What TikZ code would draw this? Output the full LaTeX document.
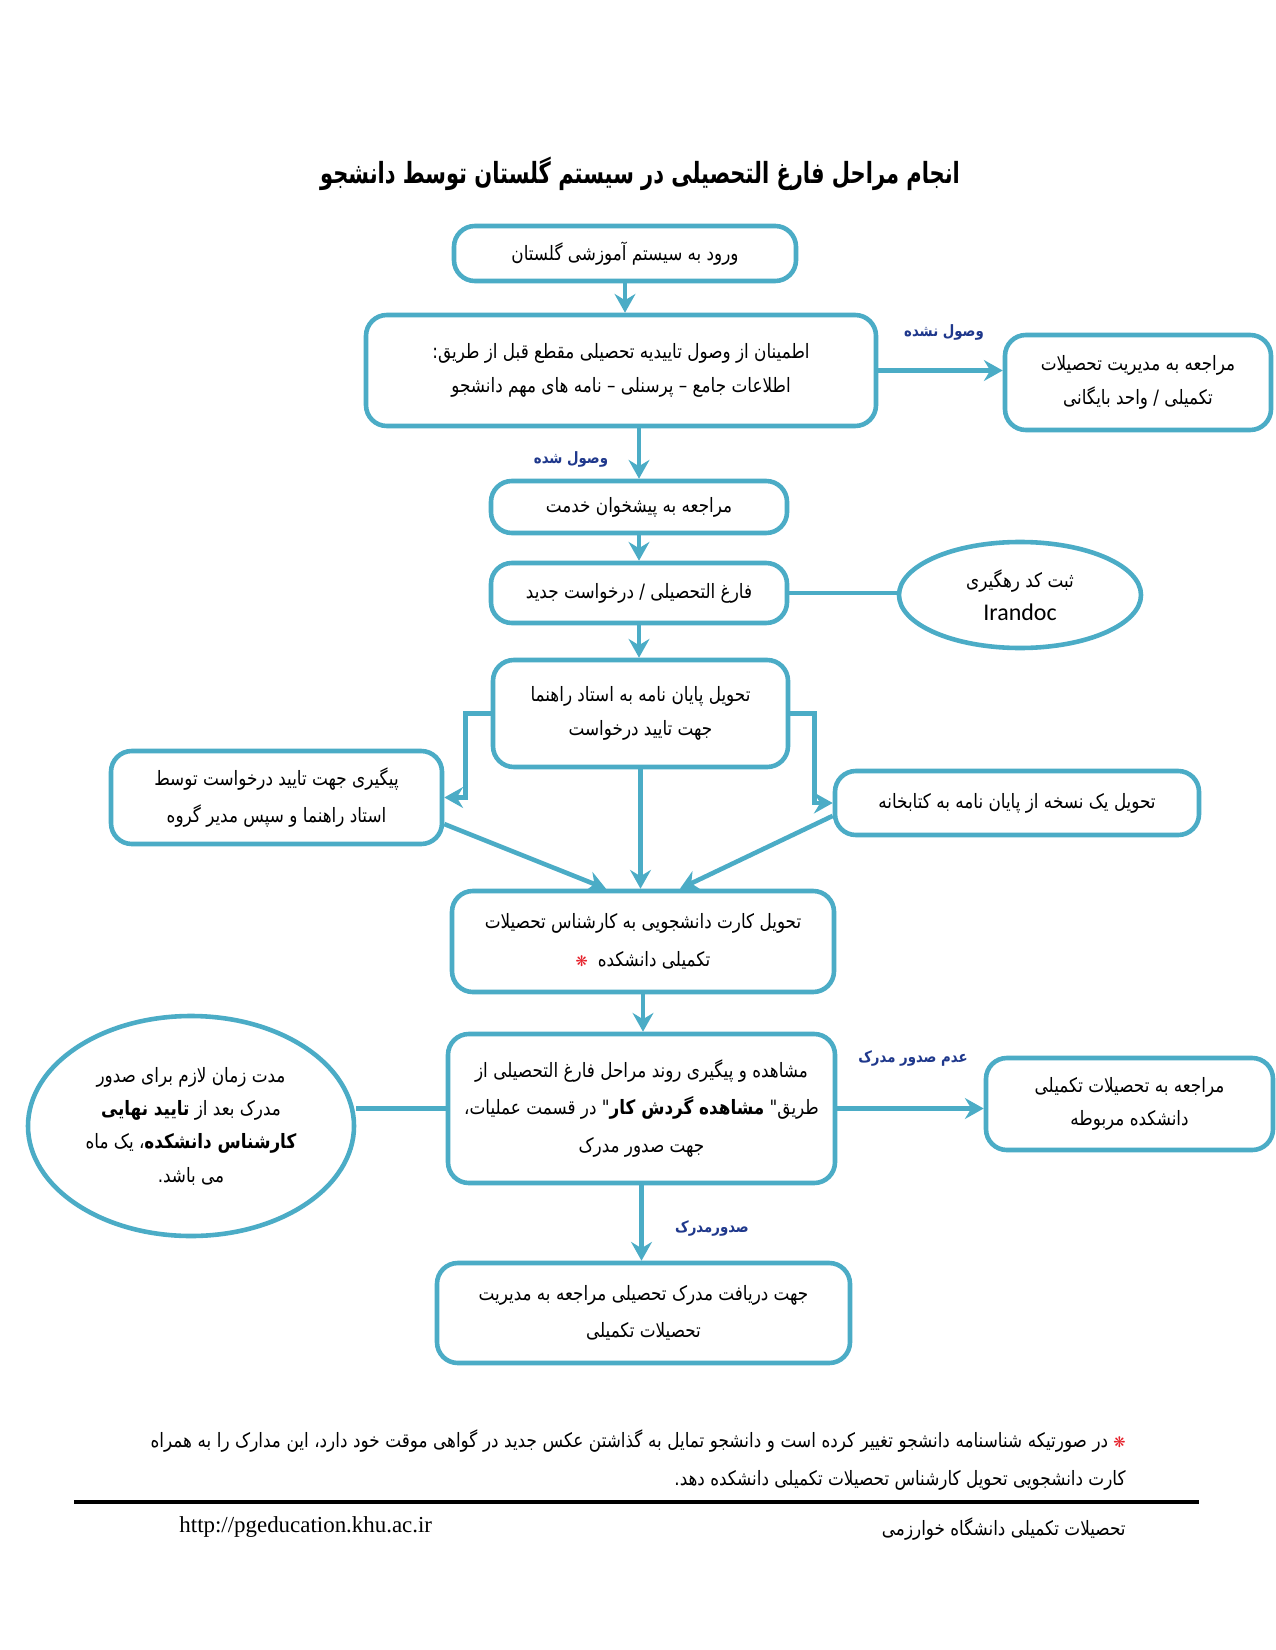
\documentclass[tikz,border=0pt]{standalone}
\usepackage{fontspec}
\setmainfont{Liberation Serif}
\newfontfamily\arabicfont[Script=Arabic,FakeStretch=0.85]{DejaVu Sans}
\newfontfamily\titlefont[Script=Arabic,FakeStretch=0.72]{DejaVu Sans}
\newfontfamily\symfont{DejaVu Sans}
\newfontfamily\latinsans{Carlito}
\TeXXeTstate=1
\usetikzlibrary{arrows.meta,shapes.geometric,calc}
\definecolor{bl}{RGB}{75,172,198}
\definecolor{labc}{RGB}{31,56,140}
\definecolor{starc}{RGB}{230,30,40}
\newcommand{\fa}[1]{{\arabicfont\beginR #1\endR}}
\newcommand{\starsym}{{\color{starc}\symfont\fontsize{7}{8}\selectfont ❋}}
\newcommand{\px}{0.48pt}
\tikzset{
  box/.style={draw=bl, line width=2.2pt, rounded corners=10pt, fill=white, align=center, inner sep=0pt, font=\fontsize{9.5}{16}\selectfont},
  wide/.style={font=\fontsize{9.5}{18}\selectfont},
  oval/.style={ellipse, draw=bl, line width=2.2pt, fill=white, align=center, inner sep=0pt, font=\fontsize{9.5}{16}\selectfont},
  arr/.style={draw=bl, line width=2.2pt, -{Stealth[length=9pt,width=10pt,inset=3pt]}},
  conn/.style={draw=bl, line width=2.2pt},
  lab/.style={text=labc, inner sep=0pt, font=\fontsize{7.5}{8}\selectfont\bfseries},
  plain/.style={inner sep=0pt, font=\fontsize{9.5}{12}\selectfont},
}
\begin{document}
\begin{tikzpicture}[x=0.48pt,y=-0.48pt]
\fill[white] (0,0) rectangle (1275,1650);
\path[use as bounding box] (0,0) rectangle (1275,1650);

\node[font=\fontsize{14}{18}\selectfont\bfseries] (title) at (640,174) {{\titlefont\beginR انجام مراحل فارغ التحصیلی در سیستم گلستان توسط دانشجو\endR}};

\node[box, minimum width=342*\px, minimum height=55*\px] (b1) at (625,253.5) {\fa{ورود به سیستم آموزشی گلستان}};
\node[box, minimum width=510*\px, minimum height=111*\px] (b2) at (621,370.5) {\fa{اطمینان از وصول تاییدیه تحصیلی مقطع قبل از طریق:}\\ \fa{اطلاعات جامع – پرسنلی – نامه های مهم دانشجو}};
\node[box, minimum width=266*\px, minimum height=95*\px] (r1) at (1138,382.5) {\fa{مراجعه به مدیریت تحصیلات}\\ \fa{تکمیلی / واحد بایگانی}};
\node[box, minimum width=296*\px, minimum height=52*\px] (b3) at (639,507) {\fa{مراجعه به پیشخوان خدمت}};
\node[box, minimum width=296*\px, minimum height=60*\px] (b4) at (639,593) {\fa{فارغ التحصیلی /  درخواست جدید}};
\node[oval, minimum width=242*\px, minimum height=106*\px] (e1) at (1020,595) {\fa{ثبت کد رهگیری}\\ {\latinsans\fontsize{11.5}{16}\selectfont Irandoc}};
\node[box, minimum width=295*\px, minimum height=107*\px] (b5) at (640.5,713.5) {\fa{تحویل پایان نامه به استاد راهنما}\\ \fa{جهت تایید درخواست}};
\node[box, wide, minimum width=331*\px, minimum height=93*\px] (lb) at (276.5,797.5) {\fa{پیگیری جهت تایید درخواست توسط}\\ \fa{استاد راهنما و سپس مدیر گروه}};
\node[box, minimum width=364*\px, minimum height=64*\px] (rb) at (1017,803) {\fa{تحویل یک نسخه از پایان نامه به کتابخانه}};
\node[box, wide, minimum width=382*\px, minimum height=101*\px] (b6) at (643,941.5) {\fa{تحویل کارت دانشجویی به کارشناس تحصیلات}\\ \starsym\ \ \fa{تکمیلی دانشکده}};
\node[box, wide, minimum width=387*\px, minimum height=149*\px] (b7) at (641.5,1108.5) {\fa{مشاهده و پیگیری روند مراحل فارغ التحصیلی از}\\ \fa{طریق" {\bfseries مشاهده گردش کار}" در قسمت عملیات،}\\ \fa{جهت صدور مدرک}};
\node[oval, minimum width=326*\px, minimum height=220*\px] (e2) at (191,1126) {\fa{مدت زمان لازم برای صدور}\\ \fa{مدرک بعد از {\bfseries تایید نهایی}}\\ \fa{{\bfseries کارشناس دانشکده}، یک ماه}\\ \fa{می باشد.}};
\node[box, minimum width=287*\px, minimum height=92*\px] (r2) at (1129.5,1104) {\fa{مراجعه به تحصیلات تکمیلی}\\ \fa{دانشکده مربوطه}};
\node[box, wide, minimum width=413*\px, minimum height=100*\px] (b8) at (643.5,1313) {\fa{جهت دریافت مدرک تحصیلی مراجعه به مدیریت}\\ \fa{تحصیلات تکمیلی}};

\node[lab] (l1) at (944,332) {\fa{وصول نشده}};
\node[lab] (l2) at (571,459) {\fa{وصول شده}};
\node[lab] (l3) at (913,1058) {\fa{عدم صدور مدرک}};
\node[lab] (l4) at (712,1228) {\fa{صدورمدرک}};

\draw[arr] (b1.south) -- (b1.south |- b2.north);
\draw[arr] (b2.east) -- (b2.east -| r1.west);
\draw[arr] (b3.north |- b2.south) -- (b3.north);
\draw[arr] (b3.south) -- (b3.south |- b4.north);
\draw[conn] (b4.east) -- (b4.east -| e1.west);
\draw[arr] (b4.south) -- (b4.south |- b5.north);
\draw[arr] (b5.west) -- ++(-25,0) |- (lb.east);
\draw[arr] (b5.east) -- ++(24,0) |- (rb.west);
\draw[arr] (lb.-9) -- (b6.125);
\draw[arr] (b5.south) -- (b5.south |- b6.north);
\draw[arr] (rb.184) -- (b6.55);
\draw[arr] (b6.south) -- (b6.south |- b7.north);
\draw[conn] (b7.west) -- (e2.east |- b7.west);
\draw[arr] (b7.east) -- (b7.east -| r2.west);
\draw[arr] (b7.south) -- (b7.south |- b8.north);

\node[plain, anchor=east] (fn1) at (1126,1441) {\hbox to 468pt{\fa{در صورتیکه شناسنامه دانشجو تغییر کرده است و دانشجو تمایل به گذاشتن عکس جدید در گواهی موقت خود دارد، این مدارک را به همراه}\ \starsym}};
\node[plain, anchor=east] (fn2) at (1126,1480) {\fa{کارت دانشجویی تحویل کارشناس تحصیلات تکمیلی دانشکده دهد.}};
\draw[line width=1.5pt] (74,1502) -- (1199,1502);
\node[plain, anchor=west, font=\fontsize{11}{13}\selectfont] (url) at (179,1527) {http://pgeducation.khu.ac.ir};
\node[plain, anchor=east] (uni) at (1126,1529) {\fa{تحصیلات تکمیلی دانشگاه خوارزمی}};
\end{tikzpicture}
\end{document}
